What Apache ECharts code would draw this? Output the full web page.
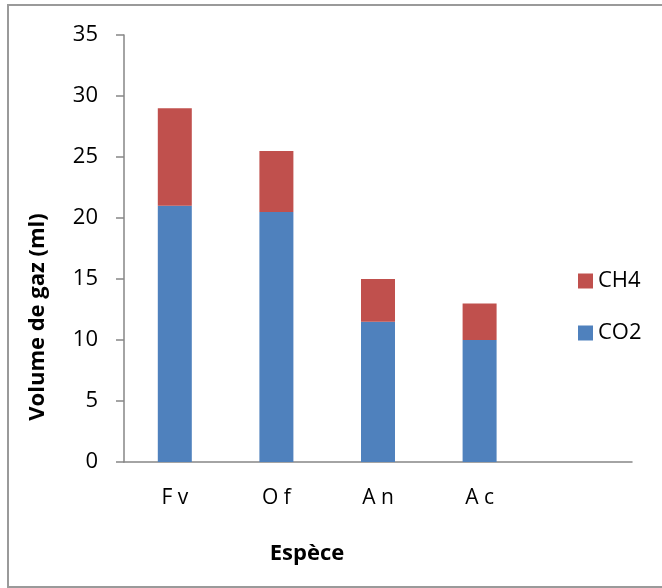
<!DOCTYPE html>
<html>
<head>
<meta charset="utf-8">
<script src="https://cdn.jsdelivr.net/npm/echarts@6/dist/echarts.min.js"></script>
<style>
html,body{margin:0;padding:0;background:#fff;}
#chart{width:662px;height:588px;}
</style>
</head>
<body>
<div id="chart"></div>
<script>
var categories = ['F v', 'O f', 'A n', 'A c', ''];
var co2 = [21, 20.5, 11.5, 10, null];
var ch4 = [8, 5, 3.5, 3, null];
var yTicks = { min: 0, max: 35, interval: 5 };
var yName = 'Volume de gaz (ml)';
var xName = 'Espèce';

var FONT = '"Open Sans", "Liberation Sans", sans-serif';
var axisGray = '#868686';

var chart = echarts.init(document.getElementById('chart'), null, { renderer: 'canvas' });
chart.setOption({
  animation: false,
  backgroundColor: '#ffffff',
  textStyle: { fontFamily: FONT },
  grid: { left: 124, top: 35, width: 508, height: 427, containLabel: false },
  legend: {
    orient: 'vertical',
    left: 573,
    top: 265,
    itemWidth: 15,
    itemHeight: 15,
    itemGap: 30,
    icon: 'rect',
    data: ['CH4', 'CO2'],
    textStyle: { fontFamily: FONT, fontSize: 22, color: '#000' }
  },
  xAxis: {
    type: 'category',
    data: categories,
    axisLine: { lineStyle: { color: axisGray, width: 1.5 } },
    axisTick: { show: false },
    axisLabel: { margin: 26, fontSize: 21, color: '#000', fontFamily: FONT },
    splitLine: { show: false }
  },
  yAxis: {
    type: 'value',
    min: yTicks.min,
    max: yTicks.max,
    interval: yTicks.interval,
    axisLine: { show: true, lineStyle: { color: axisGray, width: 1.5 } },
    axisTick: { show: true, length: 8, lineStyle: { color: axisGray, width: 1.5 } },
    axisLabel: { margin: 26, fontSize: 22, color: '#000', fontFamily: FONT },
    splitLine: { show: false }
  },
  series: [
    {
      name: 'CO2', type: 'bar', stack: 'gaz', data: co2, barWidth: 34,
      itemStyle: { color: '#4F81BD' }
    },
    {
      name: 'CH4', type: 'bar', stack: 'gaz', data: ch4, barWidth: 34,
      itemStyle: { color: '#C0504D' }
    }
  ],
  graphic: [
    {
      type: 'rect', silent: true, z: -1,
      shape: { x: 8, y: 5, width: 700, height: 582 },
      style: { fill: 'none', stroke: '#9a9a9a', lineWidth: 2 }
    },
    {
      type: 'text', x: 37.5, y: 317, rotation: Math.PI / 2,
      style: { text: yName, font: 'bold 22px ' + FONT, fill: '#000', align: 'center', verticalAlign: 'middle' }
    },
    {
      type: 'text', x: 307, y: 554,
      style: { text: xName, font: 'bold 22px ' + FONT, fill: '#000', align: 'center', verticalAlign: 'middle' }
    }
  ]
});
</script>
</body>
</html>
